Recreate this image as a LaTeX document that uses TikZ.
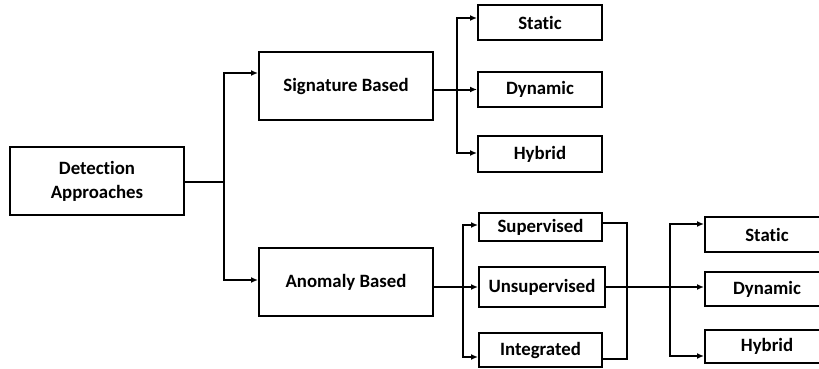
\documentclass[tikz,border=0pt]{standalone}
\usepackage{fontspec}
\setmainfont[Ligatures=NoCommon]{Carlito}
\usetikzlibrary{arrows.meta}

\begin{document}
\begin{tikzpicture}[
  x=1pt, y=-1pt,
  font=\fontsize{18.8}{24}\selectfont\bfseries,
  big/.style={draw,line width=2pt,minimum width=174pt,minimum height=68pt,
    inner sep=0pt,align=center},
  leaf/.style={draw,line width=2pt,minimum width=124pt,minimum height=35pt,
    inner sep=0pt,align=center},
  mid/.style={draw,line width=2pt,minimum width=123pt,inner sep=0pt,align=center},
  link/.style={line width=2pt},
  arr/.style={line width=2pt,-{Latex[length=7pt,width=6pt]}}]
\useasboundingbox (0,0) rectangle (819,369);
% boxes
\node[big] (det) at (97,181) {Detection\\Approaches};
\node[big] (sig) at (346,86) {Signature Based};
\node[big] (ano) at (346,282) {Anomaly Based};
\node[leaf] (st1) at (540,22.5) {Static};
\node[leaf] (dy1) at (540,89.5) {Dynamic};
\node[leaf,minimum height=36pt] (hy1) at (540,154) {Hybrid};
\node[mid,minimum height=28pt] (sup) at (540.5,227) {Supervised};
\node[mid,minimum width=126pt,minimum height=40pt] (uns) at (542,287) {Unsupervised};
\node[mid,minimum height=34pt] (int) at (540.5,350) {Integrated};
\node[leaf,minimum height=35pt] (st2) at (767,234.5) {Static};
\node[leaf,minimum height=34pt] (dy2) at (767,289) {Dynamic};
\node[leaf,minimum height=33pt] (hy2) at (767,346.5) {Hybrid};
% junctions
\coordinate (j1) at (224,182);
\coordinate (j2) at (457,90);
\coordinate (j3) at (463,287);
\coordinate (j4) at (627,287);
\coordinate (j5) at (670,287);
% connectors
\draw[link] ([yshift=-1pt]det.east) -- (j1);
\draw[arr] (j1) |- ([yshift=13pt]sig.west);
\draw[arr] (j1) |- ([yshift=2pt]ano.west);
\draw[arr] (sig.east |- dy1.west) -- (dy1.west);
\draw[arr] (j2) |- ([yshift=4.5pt]st1.west);
\draw[arr] (j2) |- ([yshift=1pt]hy1.west);
\draw[arr] (ano.east |- uns.west) -- (uns.west);
\draw[arr] (j3) |- ([yshift=2pt]sup.west);
\draw[arr] (j3) |- ([yshift=-7pt]int.west);
\draw[link] ([yshift=4pt]sup.east) -| (j4) |- ([yshift=-9pt]int.east);
\draw[arr] (uns.east) -- (uns.east -| dy2.west);
\draw[arr] (j5) |- ([yshift=10.5pt]st2.west);
\draw[arr] (j5) |- ([yshift=-9.5pt]hy2.west);
\end{tikzpicture}
\end{document}
